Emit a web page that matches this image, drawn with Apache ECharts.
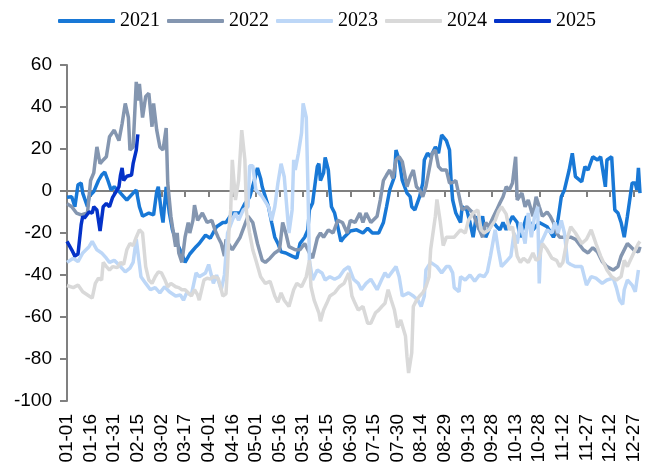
<!DOCTYPE html>
<html>
<head>
<meta charset="utf-8">
<script src="https://cdn.jsdelivr.net/npm/echarts@6/dist/echarts.min.js"></script>
<style>
  html, body { margin: 0; padding: 0; background: #fff; }
  #chart { width: 646px; height: 470px; }
</style>
</head>
<body>
<div id="chart"></div>
<script>
// month lengths used to build the MM-DD category labels
var monthDays = [31, 28, 31, 30, 31, 30, 31, 31, 30, 31, 30, 31];
var days = [];
for (var m = 0; m < 12; m++) {
  for (var d = 1; d <= monthDays[m]; d++) {
    days.push((m < 9 ? '0' : '') + (m + 1) + '-' + (d < 10 ? '0' : '') + d);
  }
}

var years = ['2021', '2022', '2023', '2024', '2025'];
var colors = ['#1878D6', '#8496B0', '#BDD7F7', '#D9D9D9', '#0432C8'];

// [day index, value]
var s2021 = [[0,-3],[3,-2.7],[5,-7.5],[7,3],[9,3.8],[10,-1],[13,-7.5],[14,-2.7],[17,-0.3],[20,5],[22,7.6],[24,9],[26,5],[28,0.5],[30,2],[34,-1],[36,-2.7],[38,-4.3],[42,-1],[44,0.5],[46,-7.5],[48,-12],[52,-10.5],[55,-11.4],[57,-0.3],[58,2],[60,-10.5],[61,-15],[63,2],[65,-10.5],[67,-18.5],[70,-25],[73,-30],[75,-34],[78,-30],[82,-26.5],[84,-25],[88,-21],[91,-22.5],[95,-17],[99,-15],[101,-15],[105,-10.5],[110,-10.5],[113,-6],[116,-3],[119,5],[121,11],[123,6],[124,2],[126,-2.7],[128,-7.5],[130,-15],[132,-22],[134,-25],[136,-29],[139,-29.5],[143,-31],[146,-32],[148,-25],[151,-22],[153,-18.5],[154,-9],[156,-5.7],[159,11.6],[160,13],[161,5],[163,8.6],[164,16],[166,10],[167,0.5],[168,-7.5],[170,-10.5],[172,-17],[174,-24],[176,-22],[180,-19],[184,-18.5],[188,-20],[191,-17.7],[194,-20],[198,-20],[201,-15],[203,-7.5],[205,0.5],[208,6.8],[209,19.5],[211,14.8],[213,5],[216,-1],[218,-2.7],[219,-7.5],[221,-9],[224,-2.7],[226,3.8],[227,14.8],[229,18],[231,16.3],[234,21],[236,18],[238,26.7],[239,27.6],[241,24],[243,19.5],[244,5],[245,-4.3],[247,-10.5],[250,-15],[251,-7.5],[254,-9],[256,-15],[258,-22],[260,-12],[262,-18.5],[264,-12],[266,-22],[268,-18.5],[270,-14],[273,-17],[275,-18.5],[277,-15],[279,-18.5],[281,-15],[283,-12],[286,-15],[288,-22],[290,-17],[292,-12],[294,-15],[296,-18.5],[300,-15],[305,-17],[309,-22],[311,-18.5],[314,-2.7],[316,0.5],[319,10],[321,18],[323,6.8],[327,4.4],[329,11.6],[331,10],[334,16.3],[337,14.8],[339,16.3],[342,2],[343,14.8],[346,16.3],[348,-9],[350,-10.5],[352,-15],[354,-22],[356,-12],[359,3.8],[361,3.8],[362,0.5],[363,11],[364,-1]];

var s2022 = [[0,-6],[3,-7.5],[6,-10.5],[9,-11.4],[13,-10.5],[14,-2.7],[15,5],[17,8.6],[19,21],[21,13],[23,14.8],[25,16.3],[27,25.8],[30,29],[33,24],[35,32],[37,41.7],[39,35],[40,19.5],[42,21],[44,52],[45,43],[46,51],[48,35],[50,45],[52,46.5],[54,30.6],[55,41.7],[57,29],[59,21],[61,19.5],[63,30],[64,3.8],[66,-12],[67,-17],[69,-26.5],[70,-20],[71,-29.5],[73,-34],[75,-22],[77,-15],[78,-20],[80,-14],[81,-6.7],[83,-14],[86,-10.5],[89,-15],[92,-14],[94,-18.5],[96,-22],[98,-25],[100,-31],[101,-23],[105,-28],[110,-22],[115,-12],[118,-15],[121,-25],[124,-33],[126,-34],[129,-32],[132,-29.5],[135,-28],[137,-15],[139,-20],[141,-26.5],[145,-28],[148,-28],[151,-25],[154,-29.5],[156,-32],[159,-22.5],[161,-20],[163,-22],[166,-18.5],[169,-20],[172,-14],[175,-15],[178,-20],[180,-14],[183,-15],[186,-10.5],[188,-15],[190,-10.5],[193,-15],[197,-12],[199,-4.3],[201,5],[203,7.6],[205,10],[207,6],[209,14.8],[211,16.3],[213,14],[216,2],[218,6.8],[220,10],[222,2],[224,0.5],[226,-2.7],[228,2],[230,10],[232,18],[234,19.5],[236,11.6],[238,10],[241,10],[243,3.8],[245,4],[247,5],[250,-5.7],[251,-9],[254,-7.5],[256,-9],[258,-10.5],[260,-15],[262,-18.5],[264,-22],[266,-15],[268,-17],[271,-12],[273,-9],[275,-5.7],[277,-2.7],[279,2],[281,0.5],[283,3.8],[285,16.3],[286,-4.3],[289,-1],[291,-7.5],[293,-4.3],[296,-12],[298,-2.7],[300,-7.5],[302,-12],[305,-10],[307,-12],[309,-15],[311,-20],[313,-22],[318,-22],[320,-22],[323,-23],[328,-28],[331,-29.5],[334,-27],[337,-29],[340,-33.6],[343,-36],[347,-37.6],[350,-36],[352,-31],[356,-25],[360,-28],[363,-29],[364,-26.5]];

var s2023 = [[0,-34],[4,-32],[7,-33.6],[10,-29.5],[14,-26.5],[16,-24],[19,-28],[22,-29.5],[25,-32],[27,-34],[30,-33],[34,-36],[37,-38.5],[40,-36.7],[42,-34],[44,-23],[47,-40.8],[50,-44],[53,-47],[56,-46],[59,-48.5],[62,-45.6],[65,-48],[69,-50],[72,-49.5],[74,-52],[76,-48.5],[79,-49.5],[82,-39],[84,-40.8],[88,-39],[90,-35],[93,-44],[95,-40],[98,-47],[100,-40],[102,-20],[105,-14],[107,-10.5],[109,-14],[112,-9],[115,-7.5],[116,12],[118,12],[120,0.5],[122,-1],[124,-2.7],[128,-7.5],[130,-14],[132,-7.5],[134,3.8],[136,13],[138,6.8],[141,-20],[143,-9],[144,14.8],[145,10],[147,18],[149,27.6],[150,41.7],[152,35],[153,3.8],[154,-33],[156,-42.4],[159,-37.6],[162,-39],[164,-42.4],[167,-40.8],[170,-42],[173,-40.8],[176,-37.6],[179,-36],[182,-42],[185,-44],[187,-47],[190,-44],[193,-42],[197,-47],[200,-42],[202,-39],[204,-41],[209,-36],[211,-40.8],[213,-50],[217,-48.5],[220,-50],[223,-52],[225,-55],[227,-50],[228,-37.6],[231,-34],[235,-36],[238,-39],[241,-36],[243,-36],[245,-39],[246,-46],[249,-48],[250,-40.8],[253,-42.4],[256,-40],[259,-43],[262,-40],[265,-40.8],[267,-38.5],[269,-31],[272,-18.5],[274,-28],[276,-36],[279,-33.6],[282,-31],[284,-20],[286,-25],[288,-15],[291,-25],[293,-10.5],[295,-22],[297,-12],[299,-7.5],[300,-44],[301,-25],[305,-18.5],[308,-20],[310,-15],[312,-20],[314,-14],[316,-20],[318,-34],[320,-35],[323,-36],[327,-36],[330,-44.8],[333,-40.8],[336,-41.5],[340,-44],[343,-42.4],[347,-41.5],[349,-46],[351,-52],[353,-54],[354,-47],[356,-42.4],[359,-44.8],[361,-48],[363,-37.6]];

var s2024 = [[0,-45],[1,-45.6],[4,-46],[7,-44.8],[10,-48],[14,-50],[16,-51],[18,-44],[20,-41.5],[22,-42.4],[23,-34],[25,-36],[27,-37.6],[29,-36],[32,-36.5],[34,-34],[36,-35],[38,-28],[40,-25],[42,-26],[44,-22],[46,-18.5],[48,-20],[50,-36],[52,-42.4],[54,-44],[56,-40.8],[58,-38.5],[60,-39],[62,-42],[64,-45.6],[66,-44],[69,-45.6],[71,-46],[73,-47],[75,-47],[77,-48.5],[79,-50],[81,-47],[83,-49.5],[84,-52],[87,-42.4],[89,-41.5],[91,-42],[93,-40.8],[96,-41.5],[97,-44],[99,-50],[101,-49],[102,-36],[103,-17],[104,-9],[105,14.8],[107,-4.3],[109,5],[111,29],[113,14.8],[114,-10],[116,-20],[118,-28],[120,-33],[123,-40.8],[126,-44],[129,-43],[132,-50],[134,-53],[136,-48.5],[138,-52],[141,-55],[144,-47],[146,-44],[149,-45.6],[152,-40.8],[154,-33],[155,-45.6],[157,-52],[160,-58],[161,-62],[163,-56.7],[165,-53.5],[167,-50],[170,-48.5],[173,-45.6],[176,-44],[179,-39],[181,-50],[183,-53.5],[185,-56.7],[188,-55],[191,-63],[193,-63],[196,-58],[198,-56.7],[200,-55],[202,-53.5],[204,-47],[206,-52],[208,-56.7],[210,-65],[212,-61.4],[215,-69],[216,-79],[217,-86.7],[219,-77],[220,-55],[222,-52],[224,-50],[226,-48.5],[228,-45.6],[230,-40.8],[231,-28],[234,-12],[235,-4],[237,-14],[239,-26],[241,-22],[243,-22],[246,-22],[250,-18.5],[253,-20],[255,-14],[258,-10.5],[261,-9],[263,-18.5],[265,-20],[268,-18.5],[272,-14],[274,-10],[276,-7.5],[279,-11],[281,-18.5],[283,-17],[286,-31],[288,-34],[290,-32],[293,-34],[296,-29.5],[298,-33],[300,-32],[302,-25],[305,-28],[308,-32],[311,-33],[313,-36],[315,-34],[318,-22],[320,-17],[323,-20],[327,-25],[330,-23],[333,-18.5],[336,-25],[339,-31],[343,-37.6],[346,-40.8],[349,-42.4],[352,-40.8],[354,-33],[356,-36],[360,-29.5],[363,-25],[364,-24]];

var s2025 = [[0,-24],[3,-28],[5,-31],[7,-30],[9,-16],[10,-12],[11,-13],[14,-10],[16,-10.5],[17,-7.5],[19,-9],[21,-19],[23,-7.5],[25,-6],[27,-7.5],[29,-3],[33,2],[34,7.6],[35,11],[36,5],[38,7],[41,7.6],[42,13],[44,19.5],[45,27]];

var seriesData = [s2021, s2022, s2023, s2024, s2025];

var chart = echarts.init(document.getElementById('chart'));
var axisFont = 'Liberation Sans, Arial, sans-serif';

chart.setOption({
  animation: false,
  backgroundColor: '#fff',
  color: colors,
  grid: { left: 67, right: 6, top: 65, bottom: 69 },
  legend: {
    top: 11,
    left: 58,
    padding: 0,
    itemGap: 7,
    itemWidth: 57,
    itemHeight: 4,
    icon: 'roundRect',
    textStyle: { fontFamily: 'Liberation Serif, Times New Roman, serif', fontSize: 20, color: '#000' },
    data: years
  },
  xAxis: [
    {
      type: 'category',
      data: days,
      boundaryGap: false,
      position: 'bottom',
      axisLine: { show: false, onZero: false },
      axisTick: { show: false },
      axisLabel: {
        interval: 14,
        rotate: 90,
        margin: 13,
        fontSize: 19,
        fontFamily: axisFont,
        color: '#000'
      }
    },
    {
      type: 'category',
      data: days,
      boundaryGap: false,
      position: 'top',
      axisLine: { show: true, onZero: true, lineStyle: { color: '#808080', width: 2 } },
      axisTick: { show: true, inside: true, interval: 14, length: 6, lineStyle: { color: '#808080', width: 2 } },
      axisLabel: { show: false }
    }
  ],
  yAxis: {
    type: 'value',
    min: -100,
    max: 60,
    interval: 20,
    axisLine: { show: true, lineStyle: { color: '#808080', width: 2 } },
    axisTick: { show: true, length: 7, lineStyle: { color: '#808080', width: 2 } },
    splitLine: { show: false },
    axisLabel: { margin: 15, fontSize: 19, fontFamily: axisFont, color: '#000' }
  },
  series: years.map(function (y, i) {
    return {
      name: y,
      type: 'line',
      xAxisIndex: 0,
      data: seriesData[i],
      symbol: 'none',
      lineStyle: { width: 3.5, color: colors[i] },
      itemStyle: { color: colors[i] }
    };
  })
});
</script>
</body>
</html>
